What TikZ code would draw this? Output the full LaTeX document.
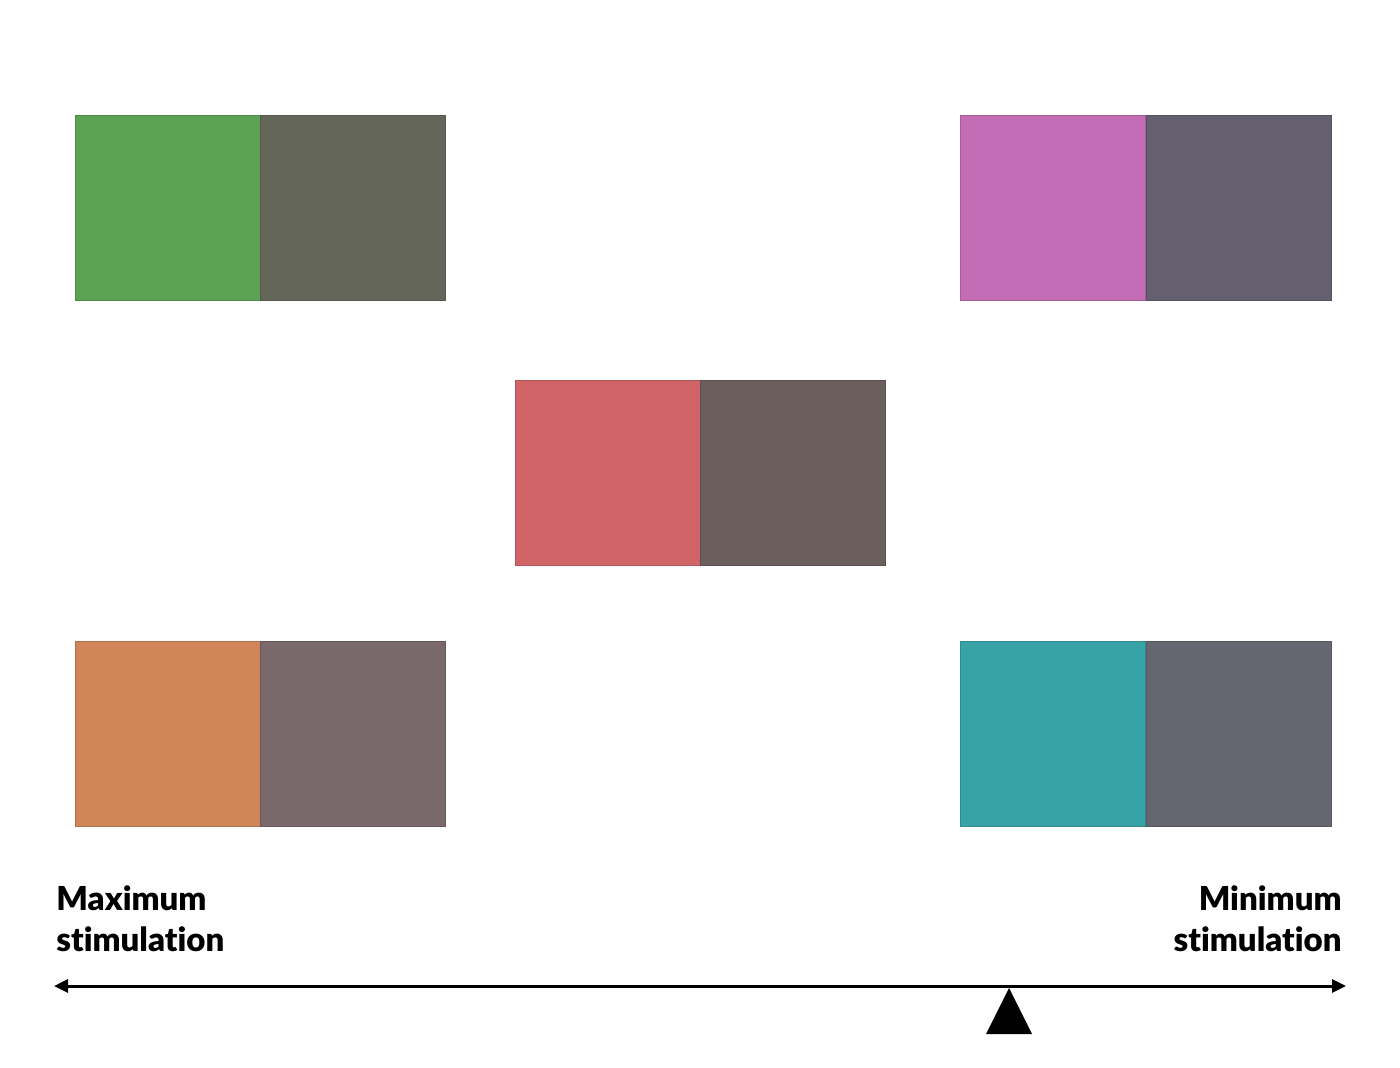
\documentclass[tikz,border=0pt]{standalone}
\usepackage{fontspec}
\setmainfont{Lato}[BoldFont={Lato Black},Ligatures=NoCommon]
\usetikzlibrary{arrows.meta}
\definecolor{cgreen}{HTML}{5BA353}
\definecolor{cgreyA}{HTML}{65665A}
\definecolor{cpink}{HTML}{C26DB6}
\definecolor{cgreyB}{HTML}{646070}
\definecolor{cred}{HTML}{D16466}
\definecolor{cgreyC}{HTML}{6A5F5C}
\definecolor{corange}{HTML}{D1865A}
\definecolor{cgreyD}{HTML}{7A696B}
\definecolor{cteal}{HTML}{37A3A7}
\definecolor{cgreyE}{HTML}{646770}
\tikzset{
  sq/.style={minimum width=92.5pt,minimum height=92.5pt,inner sep=0pt,outer sep=0pt,
    anchor=north west,draw=#1!85!black,fill=#1,line width=0.4pt},
  lbl/.style={font=\bfseries\fontsize{16.5}{20.5}\selectfont,inner sep=0pt,align=#1},
}
\begin{document}
\begin{tikzpicture}[x=0.5pt,y=-0.5pt]
\useasboundingbox (0,0) rectangle (1400,1067);
\node[sq=cgreen] (g1) at (75,115) {};
\node[sq=cgreyA] (g2) at (260.5,115) {};
\node[sq=cpink] (p1) at (960.5,115) {};
\node[sq=cgreyB] (p2) at (1146,115) {};
\node[sq=cred] (r1) at (515,380) {};
\node[sq=cgreyC] (r2) at (700.5,380) {};
\node[sq=corange] (o1) at (75,641) {};
\node[sq=cgreyD] (o2) at (260.5,641) {};
\node[sq=cteal] (t1) at (960.5,641) {};
\node[sq=cgreyE] (t2) at (1146,641) {};
\node[lbl=left,anchor=base west] (max) at (56,951) {Maximum\\stimulation};
\node[lbl=right,anchor=base east] (min) at (1342,951) {Minimum\\stimulation};
\coordinate (aL) at (54,986);
\coordinate (aR) at (1346,986);
\draw[line width=1.5pt,{Triangle[length=7pt,width=6.5pt]}-{Triangle[length=7pt,width=6.5pt]}] (aL) -- (aR);
\coordinate (tip) at (1009,988);
\fill (tip) -- (1032,1034) -- (986,1034) -- cycle;
\end{tikzpicture}
\end{document}
